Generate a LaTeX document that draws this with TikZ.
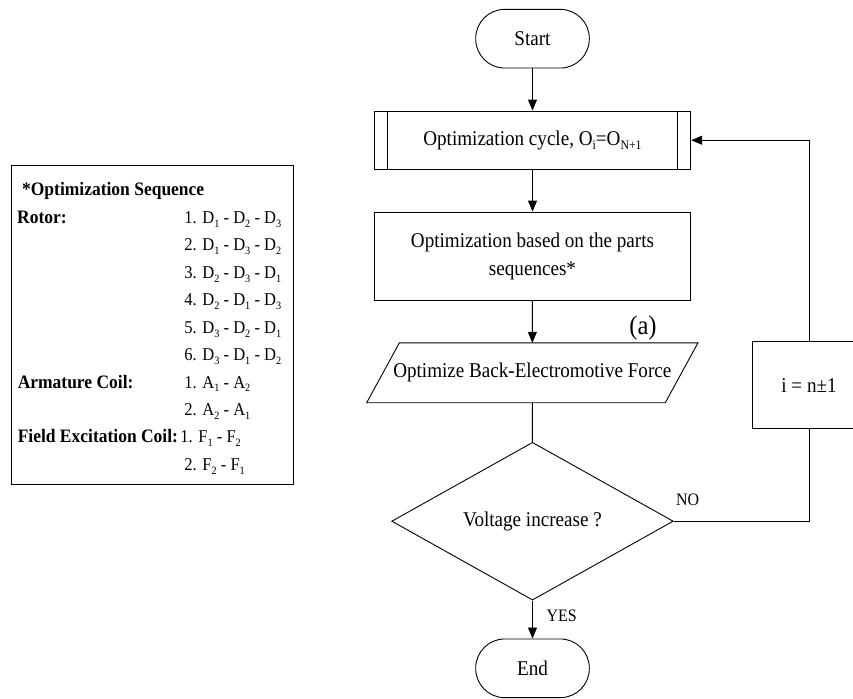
\documentclass[tikz,border=0pt]{standalone}
\usepackage{fontspec}
\usepackage{graphicx}
\setmainfont[FakeStretch=0.91]{Liberation Serif}
\newfontfamily\seqfont[FakeStretch=0.92]{Liberation Serif}
\usetikzlibrary{shapes.geometric,arrows.meta,calc}
\newcommand{\lsub}[1]{\raisebox{-0.22em}{\scalebox{0.62}{#1}}}
\begin{document}
\begin{tikzpicture}[x=1pt,y=-1pt,
  line width=0.9pt,
  mainfont/.style={font=\fontsize{21}{28}\selectfont},
  flowbox/.style={draw, mainfont, minimum width=316.4pt, inner sep=0pt, align=center},
  term/.style={draw, mainfont, rounded corners=29pt, minimum width=113.6pt, minimum height=58.7pt, inner sep=0pt},
  arr/.style={-{Triangle[length=11pt,width=9pt]}},
  lbl/.style={font=\fontsize{17.5}{18}\selectfont},
  seqb/.style={font=\seqfont\bfseries\fontsize{19}{20}\selectfont, anchor=base west, inner sep=0pt},
  seqr/.style={font=\seqfont\fontsize{18}{20}\selectfont, anchor=base west, inner sep=0pt}]
\useasboundingbox (0,0) rectangle (853,698);

% flow chart
\node[term] (start) at (532.5,38.7) {Start};
\node[flowbox, minimum height=58.3pt] (cycle) at (532.5,140.2) {Optimization cycle, O\lsub{i}=O\lsub{N+1}};
\draw ([xshift=14pt]cycle.north west) -- ([xshift=14pt]cycle.south west);
\draw ([xshift=-14pt]cycle.north east) -- ([xshift=-14pt]cycle.south east);
\node[flowbox, minimum height=88pt] (opt) at (532.5,256) {Optimization based on the parts\\sequences*};
\node[mainfont, minimum width=297.7pt, minimum height=59pt, inner sep=0pt] (para) at (532.3,372.8) {Optimize Back-Electromotive Force};
\draw ([xshift=16.35pt]para.north west) -- ([xshift=16.35pt]para.north east) -- ([xshift=-16.35pt]para.south east) -- ([xshift=-16.35pt]para.south west) -- cycle;
\node[font=\fontsize{27}{28}\selectfont, inner sep=0pt] (alabel) at (643,328) {(a)};
\node[draw, diamond, mainfont, minimum width=281.6pt, minimum height=151pt, inner sep=0pt] (dia) at (532.5,521.2) {Voltage increase ?};
\node[term] (end) at (532.5,668.3) {End};
\node[draw, mainfont, minimum width=113.4pt, minimum height=87pt, inner sep=0pt] (inc) at (809,385.2) {i = n±1};
\node[lbl, inner sep=0pt] (no) at (687.7,500) {NO};
\node[lbl, inner sep=0pt] (yes) at (561.7,616) {YES};

\draw[arr] (start) -- (cycle);
\draw[arr] (cycle) -- (opt);
\draw[arr] (opt) -- (para);
\draw (para) -- (dia);
\draw[arr] (dia) -- (end);
\draw (dia.east) -- (inc.south |- dia.east) -- (inc.south);
\draw[arr] (inc.north) |- (cycle.east);

% sequence box
\node[draw, minimum width=282.3pt, minimum height=319.3pt, inner sep=0pt] (seqbox) at (152.15,324.65) {};
\node[seqb] (h0) at (21.7,195.9) {*Optimization Sequence};
\node[seqb] (lrot) at (16.7,223.3) {Rotor:};
\node[seqb] (larm) at (17.3,388.0) {Armature Coil:};
\node[seqb] (lfld) at (17.3,442.9) {Field Excitation Coil:};
\node[seqr] (r1) at (184,223.3) {1. D\lsub{1} - D\lsub{2} - D\lsub{3}};
\node[seqr] (r2) at (184,250.75) {2. D\lsub{1} - D\lsub{3} - D\lsub{2}};
\node[seqr] (r3) at (184,278.2) {3. D\lsub{2} - D\lsub{3} - D\lsub{1}};
\node[seqr] (r4) at (184,305.65) {4. D\lsub{2} - D\lsub{1} - D\lsub{3}};
\node[seqr] (r5) at (184,333.1) {5. D\lsub{3} - D\lsub{2} - D\lsub{1}};
\node[seqr] (r6) at (184,360.55) {6. D\lsub{3} - D\lsub{1} - D\lsub{2}};
\node[seqr] (a1) at (184,388.0) {1. A\lsub{1} - A\lsub{2}};
\node[seqr] (a2) at (184,415.45) {2. A\lsub{2} - A\lsub{1}};
\node[seqr] (f1) at (180,442.9) {1. F\lsub{1} - F\lsub{2}};
\node[seqr] (f2) at (184,470.35) {2. F\lsub{2} - F\lsub{1}};
\end{tikzpicture}
\end{document}
